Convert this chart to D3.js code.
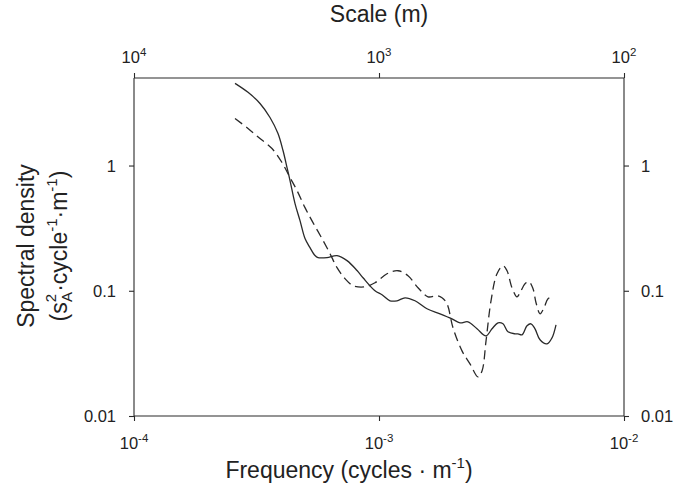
<!DOCTYPE html>
<html><head><meta charset="utf-8">
<script src="https://cdn.jsdelivr.net/npm/d3@7"></script>
<style>body{margin:0;background:#fff}svg{display:block}text{font-family:"Liberation Sans",Arial,sans-serif;fill:#222}</style>
</head><body><svg id="c" width="688" height="493"></svg>
<script>
// Frequency (cycles/m) and spectral density values
const solidFreq = [2.584e-4,2.920e-4,3.268e-4,3.590e-4,3.870e-4,4.057e-4,4.213e-4,4.333e-4,4.542e-4,4.760e-4,4.989e-4,5.229e-4,5.480e-4,5.637e-4,6.135e-4,6.741e-4,7.404e-4,8.134e-4,8.605e-4,9.631e-4,1.0286e-3,1.1089e-3,1.1844e-3,1.2769e-3,1.4028e-3,1.5702e-3,1.7745e-3,1.9862e-3,2.1412e-3,2.3081e-3,2.5119e-3,2.7344e-3,2.8929e-3,3.0607e-3,3.2079e-3,3.3620e-3,3.590e-3,3.693e-3,3.834e-3,4.019e-3,4.173e-3,4.333e-3,4.542e-3,4.850e-3,5.083e-3,5.278e-3];
const solidDensity = [4.53,3.84,3.13,2.42,1.80,1.318,0.964,0.759,0.497,0.363,0.261,0.221,0.191,0.184,0.184,0.191,0.174,0.145,0.127,0.100,0.0929,0.0832,0.0832,0.0879,0.0832,0.0718,0.0655,0.0597,0.0555,0.0565,0.0497,0.0437,0.0497,0.0555,0.0545,0.0470,0.0453,0.0453,0.0445,0.0525,0.0545,0.0497,0.0406,0.0377,0.0421,0.0535];
const dashedFreq = [2.584e-4,2.920e-4,3.268e-4,3.658e-4,4.019e-4,4.333e-4,4.628e-4,4.989e-4,5.378e-4,5.853e-4,6.310e-4,6.741e-4,7.266e-4,7.834e-4,8.768e-4,9.631e-4,1.0781e-3,1.1956e-3,1.3134e-3,1.4429e-3,1.5849e-3,1.7251e-3,1.8078e-3,1.8950e-3,2.0049e-3,2.1819e-3,2.3520e-3,2.5356e-3,2.6333e-3,2.7344e-3,2.8656e-3,3.0318e-3,3.2079e-3,3.3306e-3,3.4905e-3,3.6585e-3,3.7630e-3,3.9440e-3,4.0951e-3,4.2525e-3,4.3742e-3,4.542e-3,4.7152e-3,4.896e-3,5.131e-3];
const dashedDensity = [2.377,1.977,1.644,1.368,1.057,0.802,0.631,0.461,0.350,0.261,0.198,0.153,0.125,0.110,0.1076,0.1159,0.1368,0.1445,0.1318,0.1057,0.0895,0.0912,0.0879,0.0787,0.0506,0.0331,0.0261,0.0205,0.0229,0.0398,0.0832,0.1368,0.1585,0.1445,0.1057,0.0895,0.0964,0.1138,0.1180,0.1038,0.0802,0.0655,0.0731,0.0863,0.0895];
const freqTicks = [1e-4,1e-3,1e-2];
const freqTickExp = ["-4","-3","-2"];
const scaleTicks = [1e4,1e3,1e2];
const scaleTickExp = ["4","3","2"];
const densTicks = [1,0.1,0.01];
const densTickLabels = ["1","0.1","0.01"];

const svg = d3.select("#c");
const L=134, R=624, T=78, B=416;
const x = d3.scaleLog().domain([1e-4,1e-2]).range([L,R]);
const xs = d3.scaleLog().domain([1e4,1e2]).range([L,R]);
const y = d3.scaleLog().domain([0.01,5]).range([B,T]);
const ink="#2a2a2a";

const gb = svg.append("g").attr("transform",`translate(0,${B})`)
  .call(d3.axisBottom(x).tickValues(freqTicks).tickSize(5).tickFormat(""));
const gt = svg.append("g").attr("transform",`translate(0,${T})`)
  .call(d3.axisTop(xs).tickValues(scaleTicks).tickSize(5).tickFormat(""));
const gl = svg.append("g").attr("transform",`translate(${L},0)`)
  .call(d3.axisLeft(y).tickValues(densTicks).tickSize(5).tickFormat(""));
const gr = svg.append("g").attr("transform",`translate(${R},0)`)
  .call(d3.axisRight(y).tickValues(densTicks).tickSize(5).tickFormat(""));
svg.selectAll(".domain").attr("stroke",ink).attr("stroke-width",1.1);
svg.selectAll(".tick line").attr("stroke",ink).attr("stroke-width",1.1);
gb.select(".domain").attr("d",`M${L},0H${R}`);
gt.select(".domain").attr("d",`M${L},0H${R}`);
gl.select(".domain").attr("d",`M0,${T}V${B}`);
gr.select(".domain").attr("d",`M0,${T}V${B}`);

// tick labels
freqTicks.forEach((v,i)=>{
  const t = svg.append("text").attr("x",x(v)).attr("y",B+33).attr("text-anchor","middle").attr("font-size",16.5);
  t.append("tspan").text("10");
  t.append("tspan").attr("dy",-7).attr("font-size",11.5).text(freqTickExp[i]);
});
scaleTicks.forEach((v,i)=>{
  const t = svg.append("text").attr("x",xs(v)).attr("y",T-15).attr("text-anchor","middle").attr("font-size",16.5);
  t.append("tspan").text("10");
  t.append("tspan").attr("dy",-7).attr("font-size",11.5).text(scaleTickExp[i]);
});
densTicks.forEach((v,i)=>{
  svg.append("text").attr("x",L-18).attr("y",y(v)+6).attr("text-anchor","end").attr("font-size",16.5).text(densTickLabels[i]);
  svg.append("text").attr("x",R+17).attr("y",y(v)+6).attr("text-anchor","start").attr("font-size",16.5).text(densTickLabels[i]);
});

// titles
const xt = svg.append("text").attr("x",349).attr("y",478).attr("text-anchor","middle").attr("font-size",23);
xt.append("tspan").text("Frequency (cycles \u00b7 m");
xt.append("tspan").attr("dy",-10).attr("font-size",15).text("-1");
xt.append("tspan").attr("dy",10).text(")");
svg.append("text").attr("x",379).attr("y",22).attr("text-anchor","middle").attr("font-size",23).text("Scale (m)");

const yt = svg.append("g").attr("transform","translate(34,246) rotate(-90)");
yt.append("text").attr("text-anchor","middle").attr("font-size",23).text("Spectral density");
const y2 = yt.append("text").attr("y",33).attr("text-anchor","middle").attr("font-size",23);
y2.append("tspan").text("(s");
y2.append("tspan").attr("dy",-11).attr("font-size",15).text("2");
y2.append("tspan").attr("dx",-8).attr("dy",16).attr("font-size",15).text("A");
y2.append("tspan").attr("dy",-5).text("\u00b7cycle");
y2.append("tspan").attr("dy",-10).attr("font-size",15).text("-1");
y2.append("tspan").attr("dy",10).text("\u00b7m");
y2.append("tspan").attr("dy",-10).attr("font-size",15).text("-1");
y2.append("tspan").attr("dy",10).text(")");

// lines
const line = d3.line().x(d=>x(d[0])).y(d=>y(d[1])).curve(d3.curveCatmullRom.alpha(0.5));
svg.append("path").datum(solidFreq.map((f,i)=>[f,solidDensity[i]]))
  .attr("d",line).attr("fill","none").attr("stroke",ink).attr("stroke-width",1.3);
svg.append("path").datum(dashedFreq.map((f,i)=>[f,dashedDensity[i]]))
  .attr("d",line).attr("fill","none").attr("stroke",ink).attr("stroke-width",1.3).attr("stroke-dasharray","9,5");
</script></body></html>
